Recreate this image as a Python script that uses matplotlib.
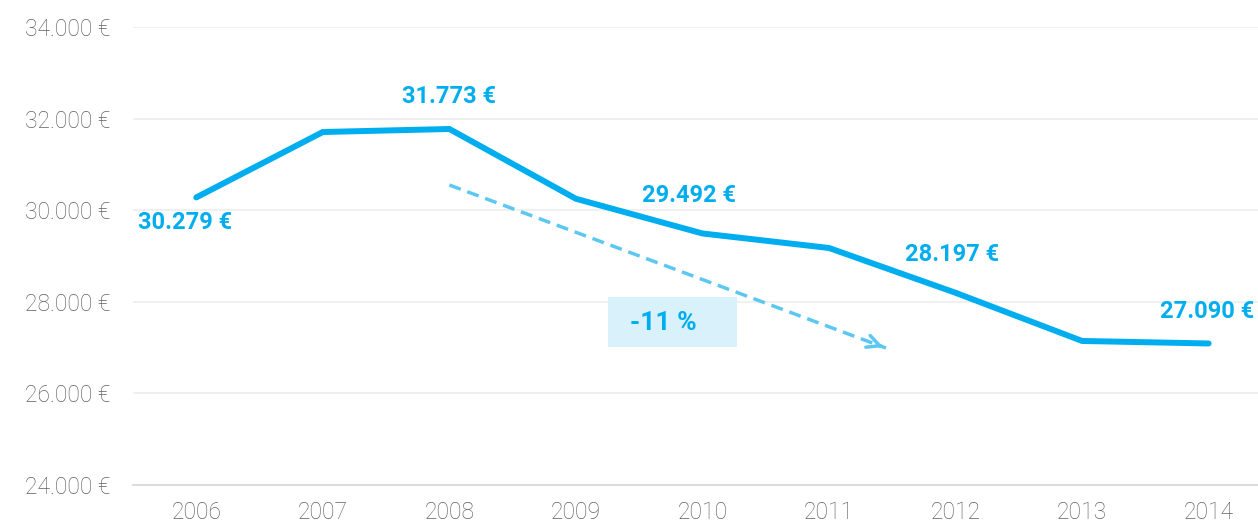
import matplotlib
matplotlib.use("Agg")
import matplotlib.pyplot as plt

years = [2006, 2007, 2008, 2009, 2010, 2011, 2012, 2013, 2014]
values = [30279, 31707, 31773, 30250, 29492, 29175, 28197, 27145, 27090]
label_years = [2006, 2008, 2010, 2012, 2014]
label_values = [30279, 31773, 29492, 28197, 27090]
label_texts = ["30.279 €", "31.773 €", "29.492 €", "28.197 €", "27.090 €"]
label_offsets = [(-11, -25), (0, 32), (-13, 38), (-3, 38), (-2, 32)]
yticks = [24000, 26000, 28000, 30000, 32000, 34000]
ytick_labels = ["24.000 €", "26.000 €", "28.000 €", "30.000 €", "32.000 €", "34.000 €"]
trend_start = (2008.0, 30550)
trend_end = (2011.45, 26990)
trend_text = "-11 %"

plt.rcParams['font.family'] = ['Roboto', 'DejaVu Sans']

fig = plt.figure(figsize=(12.58, 5.24), dpi=100)
ax = fig.add_axes([133/1258, 1-485/524, 1-133/1258, (485-27)/524])
ax.set_xlim(2005.5, 2014.39)
ax.set_ylim(24000, 34000)

for s in ['top', 'right', 'left']:
    ax.spines[s].set_visible(False)
ax.spines['bottom'].set_color('#dddddd')
ax.spines['bottom'].set_linewidth(1.5)

ax.set_yticks(yticks)
ax.set_yticklabels(ytick_labels)
ax.set_xticks(years)
ax.set_xticklabels([str(y) for y in years])
ax.tick_params(axis='both', length=0, labelsize=16.5, labelcolor='#606060')
ax.tick_params(axis='y', pad=16.5)
ax.tick_params(axis='x', pad=11.5)
for lab in ax.get_xticklabels() + ax.get_yticklabels():
    lab.set_fontweight('light')
for yv in yticks[1:]:
    ax.axhline(yv, color='#eeeeee', lw=1.2, zorder=0)

ax.plot(years, values, color='#00aeef', lw=4.3, solid_capstyle='round', solid_joinstyle='miter', zorder=3)

for x, y, t, off in zip(label_years, label_values, label_texts, label_offsets):
    ax.annotate(t, (x, y), xytext=off, textcoords='offset pixels', ha='center', va='center',
                color='#00aeef', fontsize=17, fontweight='bold', annotation_clip=False, clip_on=False)

# trend arrow
ax.plot([trend_start[0], trend_end[0]], [trend_start[1], trend_end[1]], color='#5cc8f2', lw=2.5,
        ls=(0, (3.5, 2.0)), zorder=2)
dx = trend_end[0] - trend_start[0]
dy = trend_end[1] - trend_start[1]
ax.annotate('', xy=trend_end, xytext=(trend_end[0] - dx*0.02, trend_end[1] - dy*0.02),
            arrowprops=dict(arrowstyle='->,head_length=0.9,head_width=0.45', color='#5cc8f2', lw=2.5))

ax.add_patch(plt.Rectangle((2009.254, 27013), 1.019, 1092, facecolor='#d8f1fb', edgecolor='none', zorder=1))
ax.text(2009.69, 27540, trend_text, ha='center', va='center', color='#00aeef', fontsize=19,
        fontweight='bold', zorder=4)

fig.savefig('out.png', dpi=100)
